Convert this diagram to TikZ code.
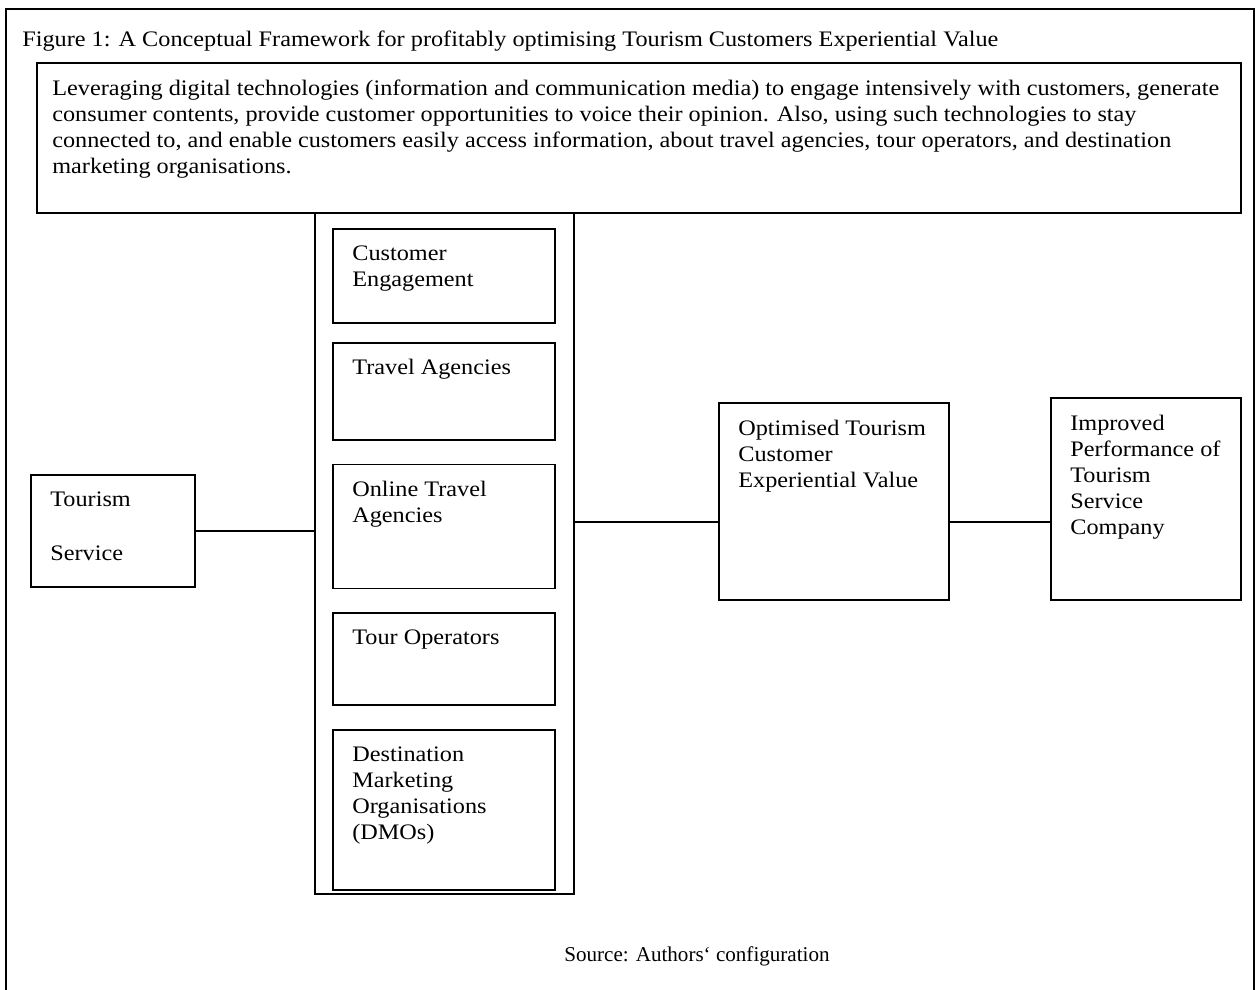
\documentclass[tikz,border=0pt]{standalone}
\usepackage{fontspec}
\setmainfont{Liberation Serif}[FakeStretch=1.095]
\newfontfamily\plainfont{Liberation Serif}
\usepackage{tikz}
\usetikzlibrary{positioning}
\tikzstyle{box} = [rectangle, draw=black, line width=1pt, inner sep=0pt]
\tikzstyle{inlabel} = [anchor=north west, align=left, inner sep=0pt, xshift=0.4cm, yshift=-0.35cm]
\tikzstyle{conn} = [line width=1pt]

\begin{document}
\begin{tikzpicture}[every node/.style={font=\fontsize{12.6pt}{14.8pt}\selectfont}]
\useasboundingbox (0,0) rectangle (25.1,-19.8);
% Frame and caption
\draw [line width=1pt] (0.12,-21) |- (25.08,-0.18) -- (25.08,-21);
\node (title) [anchor=base west, inner sep=0pt] at (0.44,-0.92) {Figure 1: A Conceptual Framework for profitably optimising Tourism Customers Experiential Value};
\node (media) [box, anchor=north west, minimum width=24.08cm, minimum height=3cm] at (0.72,-1.24) {};
\node (mediatext) [inlabel, xshift=-0.08cm] at (media.north west) {Leveraging digital technologies (information and communication media) to engage intensively with customers, generate\\consumer contents, provide customer opportunities to voice their opinion. Also, using such technologies to stay\\connected to, and enable customers easily access information, about travel agencies, tour operators, and destination\\marketing organisations.};

% Column of channels
\node (col) [box, anchor=north west, minimum width=5.18cm, minimum height=13.62cm] at (6.28,-4.24) {};
\node (ce) [box, anchor=north west, minimum width=4.44cm, minimum height=1.88cm, label={[inlabel]north west:{Customer\\Engagement}}] at (6.64,-4.56) {};
\node (ta) [box, below=0.36cm of ce, minimum width=4.44cm, minimum height=1.94cm, label={[inlabel]north west:{Travel Agencies}}] {};
\node (ota) [box, below=0.46cm of ta, minimum width=4.44cm, minimum height=2.48cm, label={[inlabel]north west:{Online Travel\\Agencies}}] {};
\node (tourop) [box, below=0.46cm of ota, minimum width=4.44cm, minimum height=1.84cm, label={[inlabel]north west:{Tour Operators}}] {};
\node (dmo) [box, below=0.46cm of tourop, minimum width=4.44cm, minimum height=3.2cm, label={[inlabel]north west:{Destination\\Marketing\\Organisations\\(DMOs)}}] {};

% Input and outcomes
\node (service) [box, anchor=north west, minimum width=3.28cm, minimum height=2.24cm, label={[inlabel]north west:{Tourism\\[16pt]Service}}] at (0.6,-9.48) {};
\node (opt) [box, anchor=north west, minimum width=4.6cm, minimum height=3.94cm, label={[inlabel]north west:{Optimised Tourism\\Customer\\Experiential Value}}] at (14.36,-8.04) {};
\node (imp) [box, anchor=north west, minimum width=3.8cm, minimum height=4.04cm, label={[inlabel]north west:{Improved\\Performance of\\Tourism\\Service\\Company}}] at (21.0,-7.94) {};

\node (source) [anchor=base, inner sep=0pt, font=\plainfont\fontsize{12pt}{14.8pt}\selectfont] at (13.94,-19.22) {Source: Authors‘ configuration};

% Lines
\coordinate (link) at (0,-10.44);
\draw [conn] (service.east) -- (service.east -| col.west);
\draw [conn] (col.east |- link) -- (opt.west |- link);
\draw [conn] (opt.east |- link) -- (imp.west |- link);

\end{tikzpicture}
\end{document}
